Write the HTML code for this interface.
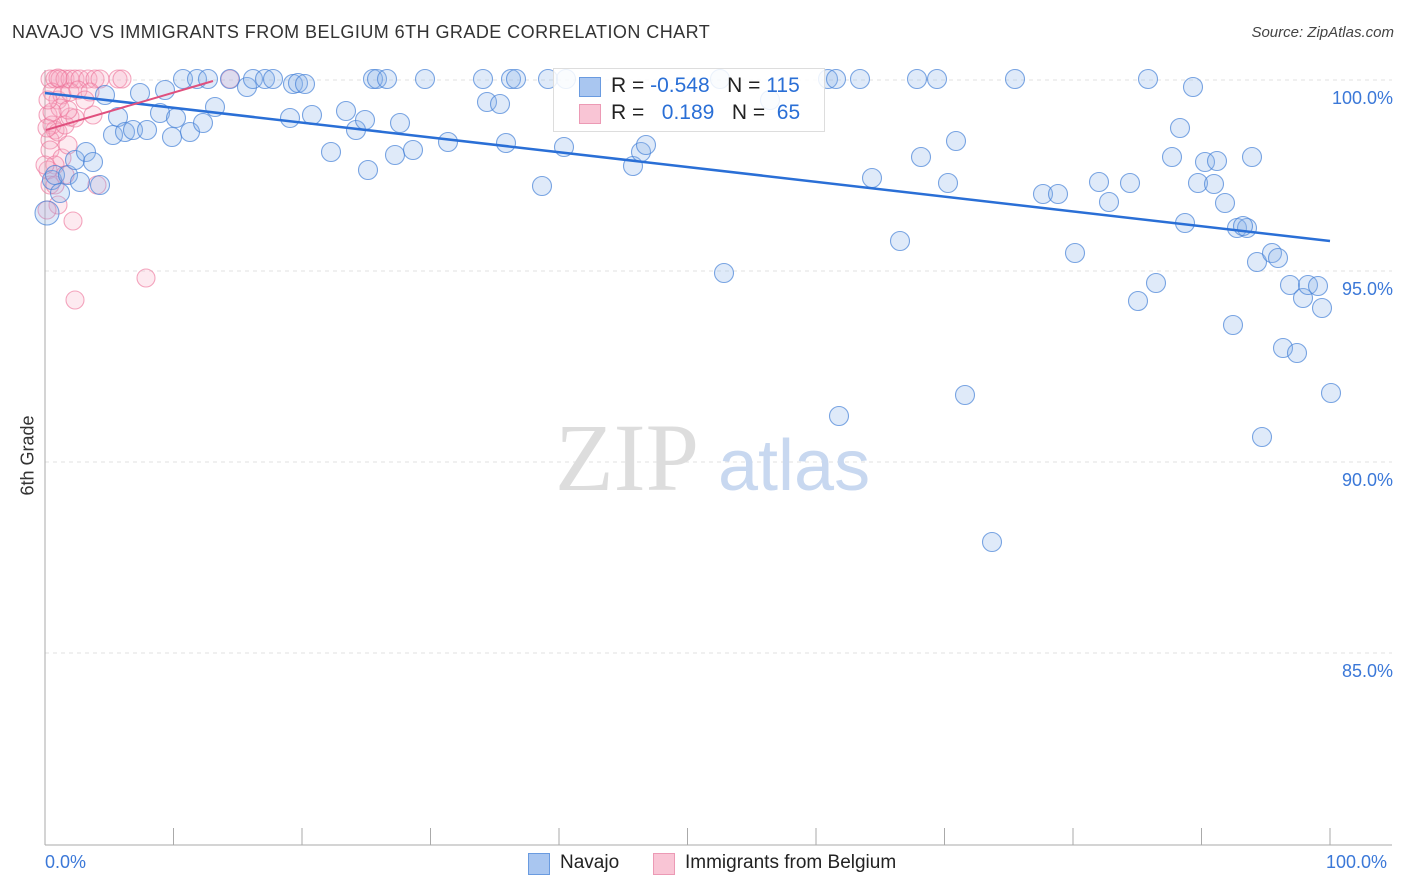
<!DOCTYPE html>
<html><head><meta charset="utf-8"><style>
body{margin:0;background:#fff;font-family:"Liberation Sans",sans-serif}
#c{position:relative;width:1406px;height:892px}
.t{position:absolute;white-space:nowrap}
</style></head><body>
<div id="c">
<div class="t" style="left:12px;top:22px;font-size:18px;letter-spacing:0.45px;color:#333">NAVAJO VS IMMIGRANTS FROM BELGIUM 6TH GRADE CORRELATION CHART</div>
<div class="t" style="right:12px;top:24px;font-size:15px;color:#444;font-style:italic">Source: ZipAtlas.com</div>
<svg id="s" width="1406" height="892" style="position:absolute;left:0;top:0"></svg>
</div>
<script>
const blueX=[47,52,55,60,68,75,80,86,93,100,105,113,118,125,133,140,147,160,165,172,176,183,190,197,203,208,215,230,247,253,265,273,290,293,298,305,312,331,346,356,365,368,373,377,387,395,400,413,425,448,483,487,500,506,511,516,542,548,564,566,633,641,646,720,724,770,828,836,839,860,872,900,917,921,937,948,956,965,992,1015,1043,1058,1075,1099,1109,1130,1138,1148,1156,1172,1180,1185,1193,1198,1205,1214,1217,1225,1233,1237,1247,1252,1257,1262,1272,1278,1283,1290,1297,1303,1308,1318,1322,1331,1243].map(p=>(p-45)/12.85);
const blueY=[213,180,175,193,175,160,182,152,162,185,95,135,117,132,130,93,130,113,90,137,118,79,132,79,123,79,107,79,87,79,79,79,118,84,83,84,115,152,111,130,120,170,79,79,79,155,123,150,79,142,79,102,104,143,79,79,186,79,147,79,166,152,145,79,273,100,79,79,416,79,178,241,79,157,79,183,141,395,542,79,194,194,253,182,202,183,301,79,283,157,128,223,87,183,162,184,161,203,325,228,228,157,262,437,253,258,348,285,353,298,285,286,308,393,226].map(p=>100-(p-80)/38.2);
const pinkX=[50,55,60,65,70,75,80,88,95,100,118,122,230,52,58,62,70,78,90,48,52,55,50,58,65,70,75,50,62,68,55,48,50,58,47,73,65,93,97,75,146,60,68,52,48,45,85,58,47,55].map(p=>(p-45)/12.85);
const pinkY=[79,79,79,79,79,79,79,79,79,79,79,79,79,92,100,95,92,90,92,115,125,130,140,132,125,117,118,150,158,145,165,170,185,205,210,221,175,115,185,300,278,108,110,112,100,165,100,78,128,185].map(p=>100-(p-80)/38.2);
const yTicks=[100,95,90,85];
const X=v=>45+v*12.85, Y=v=>80+(100-v)*38.2;
const s=document.getElementById('s'), NS='http://www.w3.org/2000/svg';
function mk(t,a){const e=document.createElementNS(NS,t);for(const k in a)e.setAttribute(k,a[k]);s.appendChild(e);return e;}
yTicks.forEach(v=>{
 const g=mk('line',{x1:45,x2:1392,y1:Y(v),y2:Y(v),stroke:'#e2e2e2','stroke-dasharray':'4,4'});
 
 
 const t=mk('text',{x:1393,y:Y(v)+24,'text-anchor':'end','font-size':18,fill:'#3b78d8','font-family':'Liberation Sans'});t.textContent=v.toFixed(1)+'%';
 
 
});
mk('line',{x1:45,x2:45,y1:70,y2:845,stroke:'#aaa'});
mk('line',{x1:45,x2:1392,y1:845,y2:845,stroke:'#aaa'});
for(let i=0;i<=10;i++){mk('line',{x1:X(i*10),x2:X(i*10),y1:828,y2:845,stroke:'#aaa'});}
const wm=mk('text',{x:555,y:490,'font-size':96,fill:'#ddd','font-family':'Liberation Serif'});wm.textContent='ZIP';
const wm2=mk('text',{x:718,y:490,'font-size':72,fill:'#c8d8f0','font-family':'Liberation Sans'});wm2.textContent='atlas';
pinkX.forEach((x,i)=>{const c=mk('circle',{cx:X(x),cy:Y(pinkY[i]),r:9,fill:'rgba(248,170,195,0.25)',stroke:'rgba(236,110,150,0.6)','stroke-width':1.1});
 
 });
blueX.forEach((x,i)=>{const c=mk('circle',{cx:X(x),cy:Y(blueY[i]),r:i==0?12:9.5,fill:'rgba(140,180,235,0.28)',stroke:'rgba(70,130,215,0.7)','stroke-width':1.1});
 
 });
const bl=mk('line',{x1:45,y1:93,x2:1330,y2:241,stroke:'#2a6fd6','stroke-width':2.5});


const pl=mk('line',{x1:46,y1:130,x2:213,y2:81,stroke:'#e0507e','stroke-width':2});


</script>
<div class="t" style="left:-12px;top:445px;font-size:18px;color:#333;transform:rotate(-90deg)">6th Grade</div>
<div class="t" style="left:45px;top:852px;font-size:18px;color:#3b78d8">0.0%</div>
<div class="t" style="left:1326px;top:852px;font-size:18px;color:#3b78d8">100.0%</div>
<div style="position:absolute;left:553px;top:68px;width:270px;height:62px;border:1px solid #ddd;background:rgba(255,255,255,0.85);font-size:21px;color:#222">
 <div style="position:absolute;left:25px;top:8px;width:20px;height:18px;background:#a9c6f0;border:1px solid #6a9be0"></div>
 <div style="position:absolute;left:25px;top:35px;width:20px;height:18px;background:#f9c5d5;border:1px solid #ec9ab5"></div>
 <div class="t" style="left:57px;top:5px">R = <span style="color:#2a6fd6">-0.548</span>&nbsp;&nbsp;&nbsp;N = <span style="color:#2a6fd6">115</span></div>
 <div class="t" style="left:57px;top:32px">R = &nbsp;&nbsp;<span style="color:#2a6fd6">0.189</span>&nbsp;&nbsp;&nbsp;N = &nbsp;<span style="color:#2a6fd6">65</span></div>
</div>
<div style="position:absolute;left:528px;top:852px;font-size:19px;color:#222">
 <div style="position:absolute;left:0;top:1px;width:20px;height:20px;background:#a9c6f0;border:1px solid #6a9be0"></div>
 <div class="t" style="left:32px;top:0">Navajo</div>
 <div style="position:absolute;left:125px;top:1px;width:20px;height:20px;background:#f9c5d5;border:1px solid #ec9ab5"></div>
 <div class="t" style="left:157px;top:0">Immigrants from Belgium</div>
</div>
</body></html>
